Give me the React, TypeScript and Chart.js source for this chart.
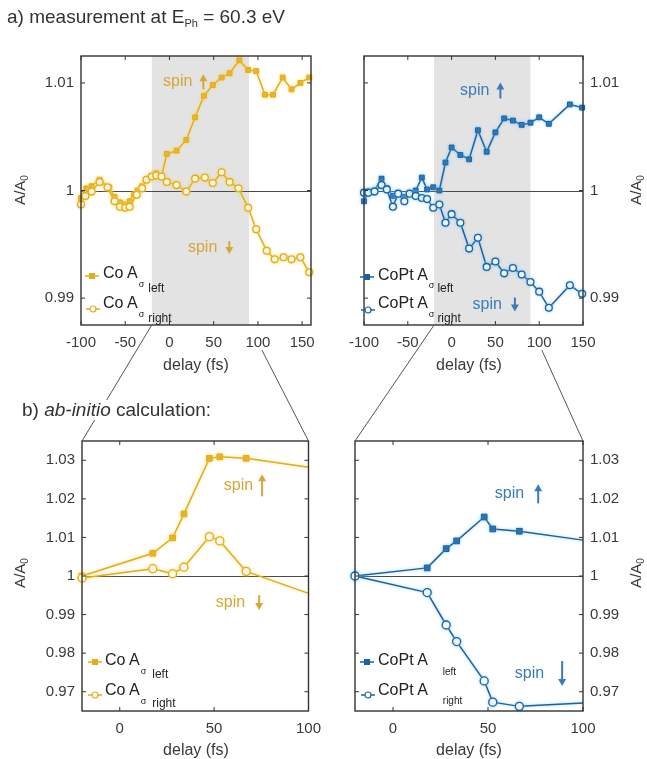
import React, { useEffect, useRef } from "react";
import { Chart, registerables } from "chart.js";
Chart.register(...registerables);

// ---------------- data ----------------
// a) measurement, Co (left panel)
const coExpLeftX = [-100, -94, -88, -79, -68, -62, -56, -50, -45, -40, -36, -31, -26, -20, -15, -9, -3, 8, 19, 29, 39, 49, 59, 68, 79, 89, 98, 108, 117, 128, 138, 148, 158];
const coExpLeftY = [0.9993, 1.0002, 1.0004, 1.001, 1.0003, 0.9994, 0.9989, 0.9987, 0.999, 0.9996, 1.0, 1.0004, 1.001, 1.0013, 1.0016, 1.0013, 1.0034, 1.0037, 1.0047, 1.0068, 1.0088, 1.0098, 1.0105, 1.0109, 1.0121, 1.0112, 1.0111, 1.0089, 1.0089, 1.0105, 1.0094, 1.01, 1.0105];
const coExpRightX = [-100, -95, -88, -79, -70, -62, -56, -50, -45, -37, -31, -26, -20, -15, -9, -3, 8, 19, 29, 40, 49, 59, 68, 78, 89, 98, 110, 119, 129, 138, 148, 158];
const coExpRightY = [0.9987, 0.9995, 0.9999, 1.0008, 1.0003, 0.999, 0.9985, 0.9984, 0.9985, 0.9996, 1.0002, 1.001, 1.0013, 1.0014, 1.0013, 1.0008, 1.0005, 0.9999, 1.0011, 1.0012, 1.0007, 1.0017, 1.0008, 1.0002, 0.9984, 0.9964, 0.9944, 0.9936, 0.9938, 0.9936, 0.9938, 0.9924];
// a) measurement, CoPt (right panel)
const coptExpX = [-100, -95, -88, -80, -74, -67, -61, -54, -48, -41, -34, -28, -21, -14, -7, 0, 10, 20, 30, 40, 50, 60, 70, 80, 90, 100, 111, 135, 149];
const coptExpLeftY = [0.999, 0.9999, 1.0, 1.0011, 1.0002, 0.9995, 0.9998, 0.9994, 0.9998, 1.0, 1.0012, 1.0001, 1.0003, 1.0, 1.0026, 1.004, 1.0033, 1.0029, 1.0056, 1.0036, 1.0054, 1.0067, 1.0065, 1.0061, 1.0063, 1.0068, 1.0062, 1.008, 1.0077];
const coptExpRightY = [0.9998, 0.9998, 0.9999, 1.0005, 1.0001, 0.9985, 0.9997, 0.999, 0.9997, 0.9995, 0.9993, 0.9992, 0.9984, 0.9987, 0.997, 0.9978, 0.997, 0.9946, 0.9956, 0.9929, 0.9934, 0.9923, 0.9928, 0.9922, 0.9915, 0.9906, 0.9891, 0.9912, 0.9904];
// b) ab-initio calculation
const coCalcX = [-20, 17.5, 28, 34, 47.5, 53, 67, 100];
const coCalcLeftY = [1.0, 1.0059, 1.0099, 1.0161, 1.0305, 1.0309, 1.0305, 1.0282];
const coCalcRightY = [0.9995, 1.0019, 1.0006, 1.0023, 1.0102, 1.0091, 1.0012, 0.9955];
const coptCalcX = [-20, 18, 28, 33.5, 48, 52.5, 66.5, 100];
const coptCalcLeftY = [1.0, 1.0021, 1.0071, 1.0091, 1.0153, 1.0122, 1.0116, 1.0093];
const coptCalcRightY = [1.0, 0.9957, 0.9873, 0.983, 0.9728, 0.9673, 0.9662, 0.9671];

// ticks / ranges
const expXTicks = [-100, -50, 0, 50, 100, 150];
const calcXTicks = [0, 50, 100];
const expYTicks = [0.99, 1, 1.01];
const calcYTicks = [0.97, 0.98, 0.99, 1, 1.01, 1.02, 1.03];
const shadeWindow = [-20, 90];
const spinLabel = "spin";

// ---------------- style ----------------
const FONT = '"Liberation Sans", Arial, Helvetica, sans-serif';
const GOLD = "#E2AC1E";
const GOLD_TEXT = "#D6A636";
const BLUE = "#1D62A0";
const BLUE_TEXT = "#3A7CB8";
const AXIS = "#333333";
const TXT = "#3a3a3a";

const fmtY = (v: number) => {
  const r = Math.round(v * 100) / 100;
  return Math.abs(r - 1) < 1e-9 ? "1" : r.toFixed(2);
};

type Series = { xs: number[]; ys: number[]; filled: boolean; hideLast?: boolean };
type Note = { x: number; y: number; dir: "up" | "down"; len: number; gap: number };
type Panel = {
  left: number; top: number; w: number; h: number;
  padL: number; padR: number; padT: number; yW: number; xH: number;
  yPos: "left" | "right";
  xMin: number; xMax: number; yMin: number; yMax: number;
  xTicks: number[]; yTicks: number[];
  color: string; textColor: string; glow: string; r: number;
  series: Series[]; shade?: number[]; notes: Note[];
};

const PANELS: Panel[] = [
  {
    left: 20, top: 40, w: 310, h: 330, padL: 0, padR: 19, padT: 12, yW: 61, xH: 45, yPos: "left",
    xMin: -100, xMax: 160, yMin: 0.9875, yMax: 1.0125, xTicks: expXTicks, yTicks: expYTicks,
    color: GOLD, textColor: GOLD_TEXT, glow: "rgba(255,214,90,0.75)", r: 3.4,
    series: [
      { xs: coExpLeftX, ys: coExpLeftY, filled: true },
      { xs: coExpRightX, ys: coExpRightY, filled: false },
    ],
    shade: shadeWindow,
    notes: [
      { x: -7.3, y: 1.0101, dir: "up", len: 15, gap: 11 },
      { x: 20.9, y: 0.9947, dir: "down", len: 13, gap: 12 },
    ],
  },
  {
    left: 340, top: 40, w: 290, h: 330, padL: 15, padR: 0, padT: 12, yW: 47, xH: 45, yPos: "right",
    xMin: -100, xMax: 150, yMin: 0.9875, yMax: 1.0125, xTicks: expXTicks, yTicks: expYTicks,
    color: BLUE, textColor: BLUE_TEXT, glow: "rgba(120,200,255,0.75)", r: 3.4,
    series: [
      { xs: coptExpX, ys: coptExpLeftY, filled: true },
      { xs: coptExpX, ys: coptExpRightY, filled: false },
    ],
    shade: shadeWindow,
    notes: [
      { x: 9.6, y: 1.0093, dir: "up", len: 16, gap: 11 },
      { x: 23.9, y: 0.9894, dir: "down", len: 14, gap: 13 },
    ],
  },
  {
    left: 20, top: 425, w: 310, h: 320, padL: 0, padR: 19, padT: 12, yW: 62, xH: 34, yPos: "left",
    xMin: -20, xMax: 100, yMin: 0.965, yMax: 1.035, xTicks: calcXTicks, yTicks: calcYTicks,
    color: GOLD, textColor: GOLD_TEXT, glow: "rgba(255,214,90,0.75)", r: 4,
    series: [
      { xs: coCalcX, ys: coCalcLeftY, filled: true, hideLast: true },
      { xs: coCalcX, ys: coCalcRightY, filled: false, hideLast: true },
    ],
    notes: [
      { x: 55.1, y: 1.0235, dir: "up", len: 22, gap: 9 },
      { x: 50.9, y: 0.9931, dir: "down", len: 15, gap: 14 },
    ],
  },
  {
    left: 340, top: 425, w: 290, h: 320, padL: 15, padR: 0, padT: 12, yW: 47, xH: 34, yPos: "right",
    xMin: -20, xMax: 100, yMin: 0.965, yMax: 1.035, xTicks: calcXTicks, yTicks: calcYTicks,
    color: BLUE, textColor: BLUE_TEXT, glow: "rgba(120,200,255,0.75)", r: 4,
    series: [
      { xs: coptCalcX, ys: coptCalcLeftY, filled: true, hideLast: true },
      { xs: coptCalcX, ys: coptCalcRightY, filled: false, hideLast: true },
    ],
    notes: [
      { x: 53.6, y: 1.0213, dir: "up", len: 19, gap: 14 },
      { x: 64.1, y: 0.9747, dir: "down", len: 25, gap: 18 },
    ],
  },
];

const decoPlugin = {
  id: "deco",
  beforeDatasetsDraw(chart: any, _a: any, opts: any) {
    const { ctx, chartArea: a, scales } = chart;
    const x = scales.x, y = scales.y;
    ctx.save();
    if (opts.shade) {
      const x0 = x.getPixelForValue(opts.shade[0]);
      const x1 = x.getPixelForValue(opts.shade[1]);
      ctx.fillStyle = "#E3E3E3";
      ctx.fillRect(x0, a.top, x1 - x0, a.bottom - a.top);
    }
    const yb = Math.round(y.getPixelForValue(1)) + 0.5;
    ctx.strokeStyle = "#4a4a4a";
    ctx.lineWidth = 1;
    ctx.beginPath();
    ctx.moveTo(a.left, yb);
    ctx.lineTo(a.right, yb);
    ctx.stroke();
    ctx.restore();
  },
  beforeDatasetDraw(chart: any, _a: any, opts: any) {
    const ctx = chart.ctx;
    ctx.save();
    ctx.shadowColor = opts.glow;
    ctx.shadowBlur = 3;
  },
  afterDatasetDraw(chart: any) {
    chart.ctx.restore();
  },
  afterDatasetsDraw(chart: any, _a: any, opts: any) {
    const { ctx, chartArea: a, scales } = chart;
    const x = scales.x, y = scales.y;
    ctx.save();
    ctx.strokeStyle = AXIS;
    ctx.lineWidth = 1.4;
    ctx.strokeRect(a.left, a.top, a.right - a.left, a.bottom - a.top);
    ctx.lineWidth = 1;
    const tl = 4;
    ctx.beginPath();
    for (const t of x.ticks) {
      const px = x.getPixelForValue(t.value);
      ctx.moveTo(px, a.bottom); ctx.lineTo(px, a.bottom - tl);
      ctx.moveTo(px, a.top); ctx.lineTo(px, a.top + tl);
    }
    for (const t of y.ticks) {
      const py = y.getPixelForValue(t.value);
      ctx.moveTo(a.left, py); ctx.lineTo(a.left + tl, py);
      ctx.moveTo(a.right, py); ctx.lineTo(a.right - tl, py);
    }
    ctx.stroke();
    // spin annotations
    ctx.font = `16px ${FONT}`;
    ctx.fillStyle = opts.textColor;
    ctx.strokeStyle = opts.textColor;
    ctx.textBaseline = "middle";
    ctx.textAlign = "left";
    for (const n of opts.notes as Note[]) {
      const px = x.getPixelForValue(n.x);
      const py = y.getPixelForValue(n.y);
      ctx.fillText(spinLabel, px, py);
      const w = ctx.measureText(spinLabel).width;
      const ax = px + w + n.gap;
      const top = py - n.len / 2, bot = py + n.len / 2;
      const head = 6, hw = 4;
      ctx.lineWidth = 2;
      ctx.beginPath();
      if (n.dir === "up") {
        ctx.moveTo(ax, bot); ctx.lineTo(ax, top + head);
        ctx.stroke();
        ctx.beginPath();
        ctx.moveTo(ax, top); ctx.lineTo(ax - hw, top + head + 1); ctx.lineTo(ax + hw, top + head + 1);
      } else {
        ctx.moveTo(ax, top); ctx.lineTo(ax, bot - head);
        ctx.stroke();
        ctx.beginPath();
        ctx.moveTo(ax, bot); ctx.lineTo(ax - hw, bot - head - 1); ctx.lineTo(ax + hw, bot - head - 1);
      }
      ctx.closePath();
      ctx.fill();
    }
    ctx.restore();
  },
};

function makeChart(canvas: HTMLCanvasElement, p: Panel) {
  return new Chart(canvas, {
    type: "line",
    data: {
      datasets: p.series.map((s) => ({
        data: s.xs.map((xv, i) => ({ x: xv, y: s.ys[i] })),
        order: s.filled ? 1 : 0,
        borderColor: p.color,
        borderWidth: 1.5,
        backgroundColor: s.filled ? p.color : "#ffffff",
        pointBackgroundColor: s.filled ? p.color : "#ffffff",
        pointBorderColor: p.color,
        pointBorderWidth: s.filled ? 1 : 1.3,
        pointStyle: s.filled ? "rect" : "circle",
        pointRadius: s.xs.map((_, i) => (s.hideLast && i === s.xs.length - 1 ? 0 : p.r)),
        fill: false,
        tension: 0,
        clip: false,
      })),
    },
    options: {
      animation: false,
      responsive: false,
      devicePixelRatio: 1,
      events: [],
      layout: { padding: { left: p.padL, right: p.padR, top: p.padT, bottom: 0 } },
      plugins: {
        legend: { display: false },
        tooltip: { enabled: false },
        deco: { shade: p.shade, notes: p.notes, textColor: p.textColor, glow: p.glow },
      },
      scales: {
        x: {
          type: "linear",
          min: p.xMin,
          max: p.xMax,
          position: "bottom",
          grid: { display: false, drawTicks: false },
          border: { display: false },
          afterBuildTicks: (s: any) => { s.ticks = p.xTicks.map((v) => ({ value: v })); },
          ticks: { color: TXT, font: { family: FONT, size: 15 }, padding: 9, maxRotation: 0, autoSkip: false },
          afterFit: (s: any) => { s.height = p.xH; },
        },
        y: {
          type: "linear",
          min: p.yMin,
          max: p.yMax,
          position: p.yPos,
          grid: { display: false, drawTicks: false },
          border: { display: false },
          afterBuildTicks: (s: any) => { s.ticks = p.yTicks.map((v) => ({ value: v })); },
          ticks: { color: TXT, font: { family: FONT, size: 15 }, padding: 7, callback: (v: any) => fmtY(Number(v)) },
          afterFit: (s: any) => { s.width = p.yW; },
        },
      },
    } as any,
    plugins: [decoPlugin as any],
  });
}

type LegRow = {
  x: number; base: number; mx: number; my: number; filled: boolean; color: string;
  main: string; sigma: boolean; sub: string; subSize: number; subDy: number; sigDy: number; subGap: number; r: number;
};

const LEGENDS: LegRow[] = [
  { x: 103, base: 278, mx: 92, my: 276, filled: true, color: GOLD, main: "Co A", sigma: true, sub: "left", subSize: 12, subDy: 14, sigDy: 9, subGap: 4, r: 3 },
  { x: 103, base: 308, mx: 93, my: 309, filled: false, color: GOLD, main: "Co A", sigma: true, sub: "right", subSize: 12, subDy: 14, sigDy: 9, subGap: 4, r: 3 },
  { x: 378, base: 280, mx: 367, my: 277, filled: true, color: BLUE, main: "CoPt A", sigma: true, sub: "left", subSize: 12, subDy: 12, sigDy: 8, subGap: 3, r: 3 },
  { x: 378, base: 308, mx: 368, my: 310, filled: false, color: BLUE, main: "CoPt A", sigma: true, sub: "right", subSize: 12, subDy: 14, sigDy: 9, subGap: 3, r: 3 },
  { x: 105, base: 665, mx: 95, my: 662, filled: true, color: GOLD, main: "Co A", sigma: true, sub: "left", subSize: 12, subDy: 13, sigDy: 9, subGap: 6, r: 3 },
  { x: 105, base: 695, mx: 95, my: 695, filled: false, color: GOLD, main: "Co A", sigma: true, sub: "right", subSize: 12, subDy: 12, sigDy: 9, subGap: 6, r: 3 },
  { x: 378, base: 665, mx: 367, my: 662, filled: true, color: BLUE, main: "CoPt A", sigma: false, sub: "left", subSize: 10, subDy: 10, sigDy: 0, subGap: 15, r: 3 },
  { x: 378, base: 695, mx: 368, my: 695, filled: false, color: BLUE, main: "CoPt A", sigma: false, sub: "right", subSize: 10, subDy: 9, sigDy: 0, subGap: 15, r: 3 },
];

function Legend({ L }: { L: LegRow }) {
  return (
    <>
      <svg style={{ position: "absolute", left: L.mx - 7, top: L.my - 5, zIndex: 3 }} width={14} height={10}>
        <line x1={0} y1={5} x2={14} y2={5} stroke={L.color} strokeWidth={1.5} />
        {L.filled ? (
          <rect x={7 - L.r} y={5 - L.r} width={2 * L.r} height={2 * L.r} fill={L.color} />
        ) : (
          <circle cx={7} cy={5} r={L.r} fill="#fff" stroke={L.color} strokeWidth={1.2} />
        )}
      </svg>
      <div
        style={{
          position: "absolute", left: L.x, top: L.base - 13.5, height: 16, lineHeight: "16px",
          fontSize: 16, color: "#222", whiteSpace: "nowrap", zIndex: 3,
        }}
      >
        <span>{L.main}</span>
        {L.sigma && (
          <span style={{ fontSize: 9, position: "relative", top: L.sigDy, marginLeft: 1 }}>σ</span>
        )}
        <span style={{ fontSize: L.subSize, position: "relative", top: L.subDy, marginLeft: L.subGap }}>{L.sub}</span>
      </div>
    </>
  );
}

function YTitle({ cx, cy }: { cx: number; cy: number }) {
  return (
    <div
      style={{
        position: "absolute", left: cx - 30, top: cy - 10, width: 60, height: 20, lineHeight: "20px",
        textAlign: "center", transform: "rotate(-90deg)", fontSize: 15, color: TXT, whiteSpace: "nowrap", zIndex: 3,
      }}
    >
      A/A<sub style={{ fontSize: 10, verticalAlign: "-3px" }}>0</sub>
    </div>
  );
}

function XTitle({ cx, cy }: { cx: number; cy: number }) {
  return (
    <div
      style={{
        position: "absolute", left: cx - 60, top: cy - 10, width: 120, height: 20, lineHeight: "20px",
        textAlign: "center", fontSize: 16, color: TXT, whiteSpace: "nowrap", zIndex: 3,
      }}
    >
      delay (fs)
    </div>
  );
}

export default function App() {
  const refs = [useRef<HTMLCanvasElement>(null), useRef<HTMLCanvasElement>(null), useRef<HTMLCanvasElement>(null), useRef<HTMLCanvasElement>(null)];
  const ovRef = useRef<HTMLCanvasElement>(null);

  useEffect(() => {
    const charts = PANELS.map((p, i) => makeChart(refs[i].current as HTMLCanvasElement, p));
    const ov = ovRef.current as HTMLCanvasElement;
    const ctx = ov.getContext("2d") as CanvasRenderingContext2D;
    ctx.clearRect(0, 0, ov.width, ov.height);
    ctx.strokeStyle = "#555";
    ctx.lineWidth = 1;
    const pairs = [[0, 2], [1, 3]];
    for (const [ti, bi] of pairs) {
      const t = charts[ti] as any, b = charts[bi] as any;
      const Pt = PANELS[ti], Pb = PANELS[bi];
      const ya = Pt.top + t.chartArea.bottom;
      const yb = Pb.top + b.chartArea.top;
      const xa = Pt.left + t.scales.x.getPixelForValue(shadeWindow[0]);
      const xb = Pb.left + b.chartArea.left;
      ctx.beginPath();
      ctx.moveTo(xa, ya); ctx.lineTo(xb, yb); ctx.stroke();
      const xc = Pt.left + t.scales.x.getPixelForValue(shadeWindow[1]);
      const xd = Pb.left + b.chartArea.right;
      const skip = 25;
      const f = skip / (yb - ya);
      ctx.beginPath();
      ctx.moveTo(xc + (xd - xc) * f, ya + skip); ctx.lineTo(xd, yb); ctx.stroke();
    }
    return () => charts.forEach((c) => c.destroy());
  }, []);

  return (
    <div style={{ position: "absolute", left: 0, top: 0, width: 647, height: 759, background: "#fff", fontFamily: FONT, overflow: "hidden" }}>
      {PANELS.map((p, i) => (
        <canvas key={i} ref={refs[i]} width={p.w} height={p.h}
          style={{ position: "absolute", left: p.left, top: p.top, width: p.w, height: p.h, zIndex: 1 }} />
      ))}
      <canvas ref={ovRef} width={647} height={759} style={{ position: "absolute", left: 0, top: 0, zIndex: 2, pointerEvents: "none" }} />
      <div style={{ position: "absolute", left: 7, top: 7, fontSize: 19, lineHeight: "20px", color: "#333", whiteSpace: "nowrap", zIndex: 3 }}>
        a) measurement at E<sub style={{ fontSize: 11, verticalAlign: "-4px" }}>Ph</sub> = 60.3 eV
      </div>
      <div style={{ position: "absolute", left: 19, top: 400, fontSize: 19, lineHeight: "20px", color: "#333", whiteSpace: "nowrap", background: "#fff", padding: "0 3px", zIndex: 3 }}>
        b) <i>ab-initio</i> calculation:
      </div>
      <YTitle cx={20} cy={190} />
      <YTitle cx={636} cy={190} />
      <YTitle cx={20} cy={573} />
      <YTitle cx={636} cy={573} />
      <XTitle cx={196} cy={365} />
      <XTitle cx={469} cy={365} />
      <XTitle cx={196} cy={750} />
      <XTitle cx={469} cy={750} />
      {LEGENDS.map((L, i) => (
        <Legend key={i} L={L} />
      ))}
    </div>
  );
}
